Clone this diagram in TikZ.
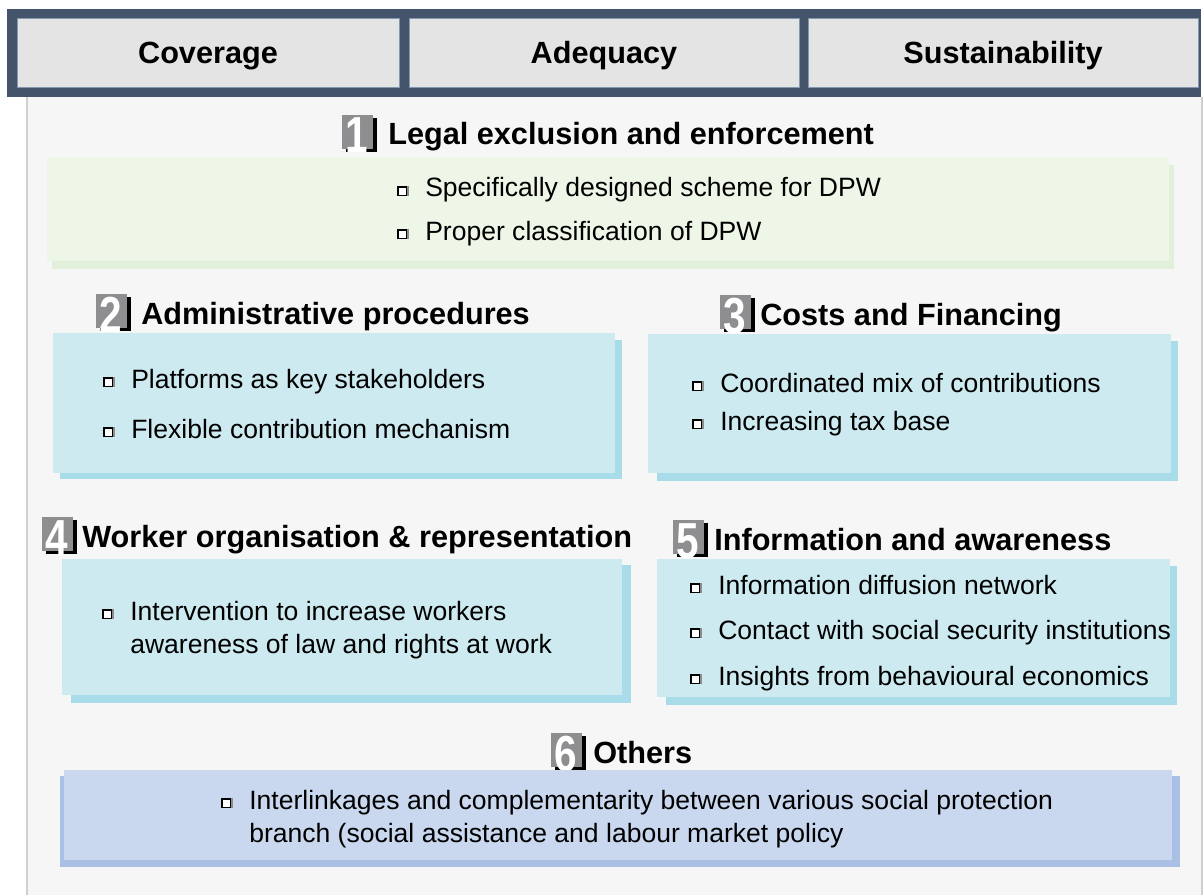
\documentclass[tikz,border=0pt]{standalone}
\usepackage{fontspec}
\setmainfont{Liberation Sans}
\usepackage{graphicx}
\usepackage{tikz}
\usetikzlibrary{fit, shadows}

\definecolor{framec}{HTML}{44546A}
\definecolor{cellc}{HTML}{E4E4E4}
\definecolor{cellline}{HTML}{8497B0}
\definecolor{panelc}{HTML}{F6F6F6}
\definecolor{panelline}{HTML}{D0D0D0}
\definecolor{greenc}{HTML}{EEF6E8}
\definecolor{greensh}{HTML}{E2EFDA}
\definecolor{bluec}{HTML}{CCEAF0}
\definecolor{bluesh}{HTML}{A8DCE8}
\definecolor{lavc}{HTML}{C9D8EE}
\definecolor{lavsh}{HTML}{A9C0E4}
\definecolor{badgec}{HTML}{8E8E90}
\newcommand{\sqbul}{\makebox[0pt][l]{\raisebox{0.75pt}{\hspace{1.2pt}\color{black!45}\rule{7.5pt}{7.5pt}}}%
    \raisebox{1.5pt}{\setlength{\fboxsep}{0pt}\setlength{\fboxrule}{1pt}\fcolorbox{black}{white}{\rule{0pt}{5.5pt}\hspace{5.5pt}}}\hspace{13.5pt}}

\begin{document}
\begin{tikzpicture}[
            x = 0.75pt, y = -0.75pt, % one unit per pixel, y going down
            inner sep = 0pt, % boxes sit exactly on their corners
        ]

        \tikzstyle{cell}=[fill = cellc, draw = cellline, line width = 0.6pt]
        \tikzstyle{celltext}=[
            text height = 16.5pt,
            text depth = 0pt,
            font = \fontsize{23}{27}\selectfont\bfseries
        ]
        \tikzstyle{head}=[anchor = base west, font = \fontsize{23}{27}\selectfont\bfseries]
        \tikzstyle{item}=[anchor = base west, font = \fontsize{19.9}{24}\selectfont]
        \tikzstyle{badge}=[
            fill = badgec,
            minimum width = 23.25pt,
            minimum height = 25.5pt,
            drop shadow = {shadow xshift = 3pt, shadow yshift = -2.25pt, fill = black, opacity = 1}
        ]
        \tikzstyle{digit}=[text = white, text height = 27pt, text depth = 0pt, font = \fontsize{38}{38}\selectfont\bfseries]

        \useasboundingbox (0,0) rectangle (1203,895);

        % background panel
        \fill[panelc] (27,97) rectangle (1202,895);
        \draw[panelline, line width = 0.8pt] (27,97) -- (27,895);
        \draw[panelline, line width = 0.8pt] (1202,97) -- (1202,895);

        % header bar
        \fill[framec] (7,9) rectangle (1201,97);
        \node[cell, fit = {(17,18) (399,87)}] (cov) {};
        \node[cell, fit = {(409,18) (799,87)}] (adq) {};
        \node[cell, fit = {(808,18) (1198,87)}] (sus) {};
        \node[celltext] (tcov) at (cov.center) {Coverage};
        \node[celltext] (tadq) at (adq.center) {Adequacy};
        \node[celltext] (tsus) at (sus.center) {Sustainability};

        % 1 legal exclusion
        \node[badge] (n1) at (357,132) {};
        \node[digit] (d1) at ([yshift = -2.25pt]n1.center) {\scalebox{0.8}[1]{1}};
        \node[head] (h1) at (388,145) {Legal exclusion and enforcement};
        \fill[greensh] (52,165) rectangle (1174,269);
        \node[fit = {(47,157) (1169,261)}, fill = greenc] (legal) {};
        \node[item] (i11) at (397,197) {\sqbul Specifically designed scheme for DPW};
        \node[item] (i12) at (397,240) {\sqbul Proper classification of DPW};

        % 2 administrative procedures
        \node[badge] (n2) at (111,311) {};
        \node[digit] (d2) at ([yshift = -2.25pt]n2.center) {\scalebox{0.8}[1]{2}};
        \node[head] (h2) at (141,324) {Administrative procedures};
        \fill[bluesh] (60,340) rectangle (622,479);
        \node[fit = {(53,333) (615,473)}, fill = bluec] (admin) {};
        \node[item] (i21) at (103,388) {\sqbul Platforms as key stakeholders};
        \node[item] (i22) at (103,438) {\sqbul Flexible contribution mechanism};

        % 3 costs and financing
        \node[badge] (n3) at (735,312) {};
        \node[digit] (d3) at ([yshift = -2.25pt]n3.center) {\scalebox{0.8}[1]{3}};
        \node[head] (h3) at (760,325) {Costs and Financing};
        \fill[bluesh] (657,341) rectangle (1178,481);
        \node[fit = {(648,334) (1171,473)}, fill = bluec] (costs) {};
        \node[item] (i31) at (692,392) {\sqbul Coordinated mix of contributions};
        \node[item] (i32) at (692,430) {\sqbul Increasing tax base};

        % 4 worker organisation
        \node[badge] (n4) at (57,534) {};
        \node[digit] (d4) at ([yshift = -2.25pt]n4.center) {\scalebox{0.8}[1]{4}};
        \node[head] (h4) at (82,547) {Worker organisation \& representation};
        \fill[bluesh] (71,565) rectangle (631,703);
        \node[fit = {(62,559) (622,695)}, fill = bluec] (worker) {};
        \node[item] (i41) at (102,620) {\sqbul Intervention to increase workers};
        \node[item] (i42) at (130,653) {awareness of law and rights at work};

        % 5 information and awareness
        \node[badge] (n5) at (688,537) {};
        \node[digit] (d5) at ([yshift = -2.25pt]n5.center) {\scalebox{0.8}[1]{5}};
        \node[head] (h5) at (714,550) {Information and awareness};
        \fill[bluesh] (666,566) rectangle (1177,705);
        \node[fit = {(657,559) (1170,697)}, fill = bluec] (info) {};
        \node[item] (i51) at (690,594) {\sqbul Information diffusion network};
        \node[item] (i52) at (690,639) {\sqbul Contact with social security institutions};
        \node[item] (i53) at (690,685) {\sqbul Insights from behavioural economics};

        % 6 others
        \node[badge] (n6) at (566,750) {};
        \node[digit] (d6) at ([yshift = -2.25pt]n6.center) {\scalebox{0.8}[1]{6}};
        \node[head] (h6) at (593,763) {Others};
        \fill[lavsh] (60,776) rectangle (1180,867);
        \node[fit = {(64,770) (1172,860)}, fill = lavc] (others) {};
        \node[item] (i61) at (221,809) {\sqbul Interlinkages and complementarity between various social protection};
        \node[item] (i62) at (249,842) {branch (social assistance and labour market policy};
    \end{tikzpicture}
\end{document}
